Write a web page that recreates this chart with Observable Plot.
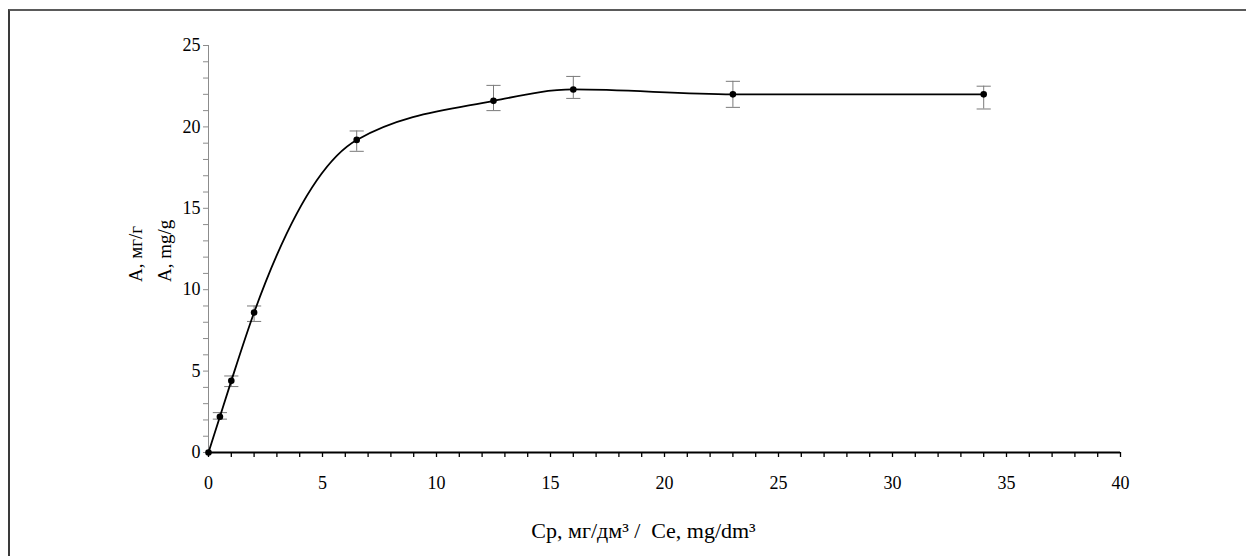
<!DOCTYPE html>
<html>
<head>
<meta charset="utf-8">
<script src="https://cdn.jsdelivr.net/npm/d3@7"></script>
<script src="https://cdn.jsdelivr.net/npm/@observablehq/plot@0.6"></script>
<style>
  html, body { margin: 0; padding: 0; background: #fff; overflow: hidden; width: 1246px; height: 556px; }
  #wrap { position: relative; width: 1246px; height: 556px; overflow: hidden; }
  #border { position: absolute; left: 8px; top: 9px; width: 1300px; height: 700px;
            border-top: 2px solid #5a5a5a; border-left: 2px solid #3a3a3a; pointer-events: none; }
  svg, svg text { font-family: "Liberation Serif", "Times New Roman", serif !important; }
</style>
</head>
<body>
<div id="wrap"><div id="border"></div></div>
<script>
// Data
const concentration = [0, 0.5, 1, 2, 6.5, 12.5, 16, 23, 34];           // Cp, mg/dm3
const adsorption    = [0, 2.2, 4.4, 8.6, 19.2, 21.6, 22.3, 22.0, 22.0];  // A, mg/g
const errLow        = [null, 2.05, 4.05, 8.05, 18.5, 21.0, 21.75, 21.2, 21.1];
const errHigh       = [null, 2.45, 4.7, 9.0, 19.75, 22.55, 23.1, 22.8, 22.5];

const xTickLabels = [0, 5, 10, 15, 20, 25, 30, 35, 40];
const yTickLabels = [0, 5, 10, 15, 20, 25];
const xMinorTicks = d3.range(0, 41, 1);
const yMinorTicks = d3.range(0, 26, 1);

const yTitle1 = "А, мг/г";
const yTitle2 = "А, mg/g";
const xTitle = "Cp, мг/дм³ /  Ce, mg/dm³";

const points = concentration.map((c, i) => ({c, a: adsorption[i], lo: errLow[i], hi: errHigh[i]}));
const errs = points.filter(d => d.lo != null);

const capSymbol = {
  draw(context, size) {
    const w = Math.sqrt(size);
    context.moveTo(-w, 0);
    context.lineTo(w, 0);
  }
};

const chart = Plot.plot({
  width: 1246,
  height: 556,
  marginLeft: 208,
  marginRight: 126,
  marginTop: 45,
  marginBottom: 104,
  style: {background: "transparent", color: "black"},
  x: {domain: [0, 40], label: null},
  y: {domain: [0, 25], label: null},
  marks: [
    // y axis: gray line, gray minor ticks, labels
    Plot.ruleX([0], {stroke: "#8c8c8c", strokeWidth: 1}),
    Plot.axisY(yMinorTicks, {tickSize: 5, tickFormat: () => "", stroke: "#8c8c8c", strokeWidth: 1}),
    Plot.axisY(yTickLabels, {tickSize: 0, tickPadding: 8, fontSize: 18, fill: "black", label: null}),
    // x axis: black thicker line, ticks, labels
    Plot.ruleY([0], {stroke: "black", strokeWidth: 2}),
    Plot.axisX(xMinorTicks, {tickSize: 5, tickFormat: () => "", stroke: "black", strokeWidth: 1.3}),
    Plot.axisX(xTickLabels, {tickSize: 0, tickPadding: 24, fontSize: 18, fill: "black", label: null}),
    // error bars
    Plot.ruleX(errs, {x: "c", y1: "lo", y2: "hi", stroke: "#7a7a7a", strokeWidth: 1}),
    Plot.dot(errs, {x: "c", y: "lo", symbol: capSymbol, r: 4, stroke: "#7a7a7a", strokeWidth: 1}),
    Plot.dot(errs, {x: "c", y: "hi", symbol: capSymbol, r: 4, stroke: "#7a7a7a", strokeWidth: 1}),
    // curve
    Plot.line(points, {x: "c", y: "a", curve: "monotone-x", stroke: "black", strokeWidth: 1.8}),
    Plot.dot(points, {x: "c", y: "a", r: 3.3, fill: "black", stroke: "none"}),
    // axis titles
    Plot.text([yTitle1], {text: d => d, frameAnchor: "left", rotate: -90, textAnchor: "start", lineAnchor: "bottom",
                          dx: -67, dy: 33, fontSize: 19, fill: "black"}),
    Plot.text([yTitle2], {text: d => d, frameAnchor: "left", rotate: -90, textAnchor: "start", lineAnchor: "bottom",
                          dx: -38, dy: 33, fontSize: 19, fill: "black"}),
    Plot.text([xTitle], {text: d => d, frameAnchor: "bottom", lineAnchor: "bottom", dx: -21, dy: 85,
                         fontSize: 22, fill: "black"})
  ]
});
document.getElementById("wrap").appendChild(chart);
chart.style.position = "absolute";
chart.style.left = "0px";
chart.style.top = "0px";
</script>
</body>
</html>
